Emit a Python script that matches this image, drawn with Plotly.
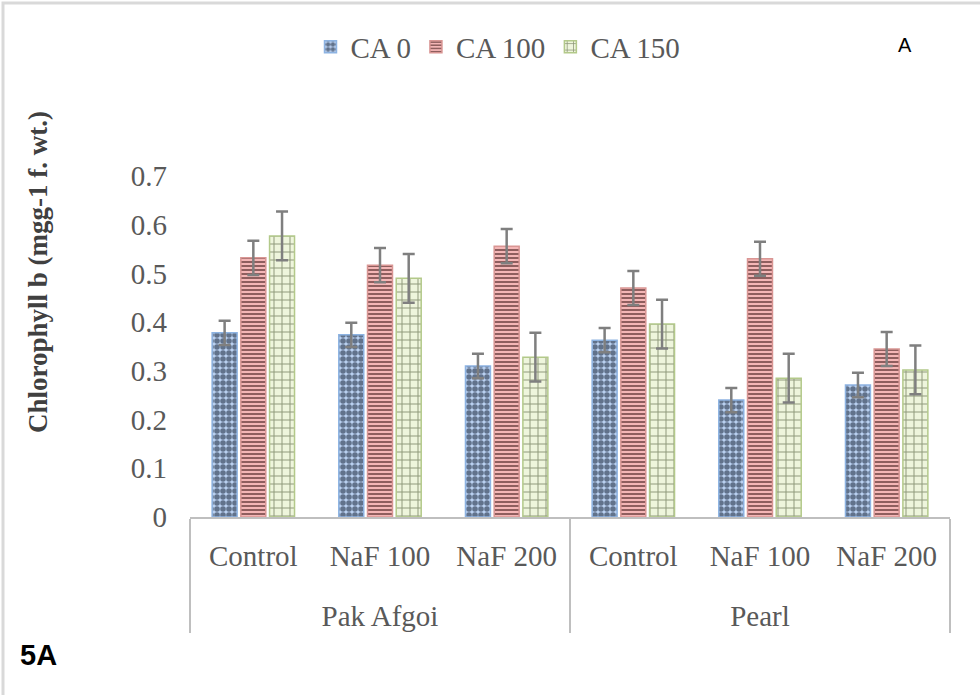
import plotly.graph_objects as go

varieties = ["Pak Afgoi", "Pak Afgoi", "Pak Afgoi", "Pearl", "Pearl", "Pearl"]
treatments = ["Control", "NaF 100", "NaF 200", "Control", "NaF 100", "NaF 200"]

series_names = ["CA 0", "CA 100", "CA 150"]
ca0 = [0.378, 0.374, 0.310, 0.363, 0.240, 0.271]
ca100 = [0.532, 0.517, 0.556, 0.470, 0.530, 0.345]
ca150 = [0.577, 0.490, 0.328, 0.396, 0.285, 0.302]
err_ca0 = [0.025, 0.025, 0.025, 0.025, 0.025, 0.025]
err_ca100 = [0.035, 0.035, 0.035, 0.035, 0.035, 0.035]
err_ca150 = [0.050, 0.050, 0.050, 0.050, 0.050, 0.050]

y_ticks = [0, 0.1, 0.2, 0.3, 0.4, 0.5, 0.6, 0.7]
y_ticklabels = ["0", "0.1", "0.2", "0.3", "0.4", "0.5", "0.6", "0.7"]

styles = [
    dict(shape=".", fg="#0a1326", bg="#b9d0f0", size=6, sol=0.68, line="#8db3e2"),
    dict(shape="-", fg="#2a0505", bg="#f4b6b6", size=4, sol=0.5, line="#d99694"),
    dict(shape="+", fg="#26320f", bg="#eef5dc", size=8, sol=0.22, line="#b3c98a"),
]

# inner labels get an extra (blank) line so the outer level sits lower, as in the reference
inner_labels = [t + "<br> " for t in treatments]

fig = go.Figure()
for name, vals, errs, st in zip(series_names, [ca0, ca100, ca150],
                                [err_ca0, err_ca100, err_ca150], styles):
    fig.add_trace(go.Bar(
        name=name,
        x=[varieties, inner_labels],
        y=vals,
        marker=dict(
            color=st["bg"],
            line=dict(color=st["line"], width=1.5),
            pattern=dict(shape=st["shape"], fgcolor=st["fg"], bgcolor=st["bg"],
                         size=st["size"], solidity=st["sol"], fillmode="overlay"),
        ),
        error_y=dict(type="data", array=errs, visible=True,
                     color="#7f7f7f", thickness=2.5, width=6),
    ))

serif = "Liberation Serif"
W, H = 980, 695
L, R, T, B = 190, 30, 176, 178
pw, ph = W - L - R, H - T - B


def px_x(p):
    return (p - L) / pw


def px_y(p):
    return (H - B - p) / ph


fig.update_layout(
    width=W, height=H,
    margin=dict(l=L, r=R, t=T, b=B),
    paper_bgcolor="white", plot_bgcolor="white",
    font=dict(family=serif, color="#595959"),
    barmode="group", bargap=0.32, bargroupgap=0.13,
    showlegend=True,
    legend=dict(orientation="h", x=px_x(498), y=px_y(47), xanchor="center",
                yanchor="middle", font=dict(family=serif, size=29, color="#595959"),
                itemwidth=30, bgcolor="rgba(0,0,0,0)"),
    xaxis=dict(
        type="multicategory",
        showline=True, linecolor="#bfbfbf", linewidth=2,
        showdividers=True, dividercolor="#bfbfbf", dividerwidth=2,
        tickfont=dict(family=serif, size=29, color="#595959"),
        ticks="", showgrid=False, ticklabelstandoff=12,
    ),
    yaxis=dict(
        range=[0, 0.7], tickvals=y_ticks, ticktext=y_ticklabels,
        showgrid=False, zeroline=False, showline=False, ticks="",
        tickfont=dict(family=serif, size=29, color="#595959"),
        ticklabelstandoff=22,
    ),
    annotations=[
        dict(text="<b>Chlorophyll b (mgg-1 f. wt.)</b>", textangle=-90,
             xref="paper", yref="paper", x=px_x(38), y=px_y(272),
             showarrow=False, xanchor="center", yanchor="middle",
             font=dict(family=serif, size=27, color="#404040")),
        dict(text="A", xref="paper", yref="paper", x=px_x(905), y=px_y(45),
             showarrow=False, xanchor="center", yanchor="middle",
             font=dict(family="Liberation Sans", size=20, color="black")),
        dict(text="<b>5A</b>", xref="paper", yref="paper", x=px_x(18), y=px_y(655),
             showarrow=False, xanchor="left", yanchor="middle",
             font=dict(family="Liberation Sans", size=29, color="black")),
    ],
    shapes=[
        dict(type="rect", xref="paper", yref="paper",
             x0=px_x(3), x1=px_x(1000), y0=px_y(720), y1=px_y(3),
             line=dict(color="#d9d9d9", width=3), fillcolor="rgba(0,0,0,0)",
             layer="below"),
    ],
)

fig.write_html("out.html")
